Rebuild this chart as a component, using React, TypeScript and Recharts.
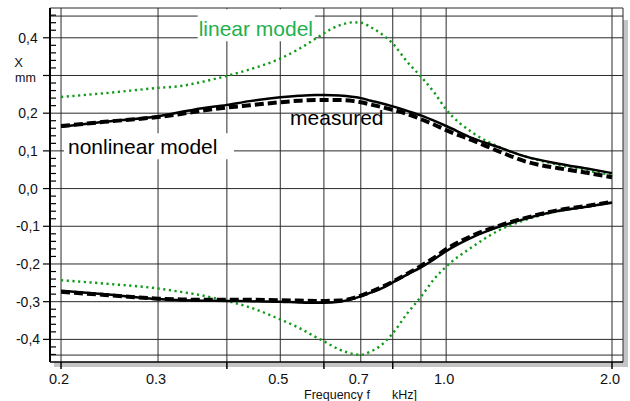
import React from "react";
import {
  LineChart,
  Line,
  XAxis,
  YAxis,
  CartesianGrid,
  ReferenceArea,
  Label,
} from "recharts";

// ---- data (frequency in kHz, displacement X in mm) ----
const FREQ = [0.2, 0.24, 0.3, 0.33, 0.35, 0.4, 0.44, 0.5, 0.54, 0.58, 0.6, 0.64, 0.68, 0.7, 0.73, 0.76, 0.8, 0.85, 0.9, 0.95, 1.0, 1.12, 1.25, 1.4, 1.6, 1.8, 2.0];
const UPPER_LINEAR = [0.243, 0.253, 0.267, 0.272, 0.279, 0.299, 0.316, 0.345, 0.370, 0.398, 0.412, 0.433, 0.441, 0.440, 0.428, 0.412, 0.385, 0.336, 0.297, 0.256, 0.210, 0.147, 0.110, 0.084, 0.063, 0.048, 0.036];
const UPPER_NONLINEAR = [0.164, 0.177, 0.192, 0.203, 0.210, 0.222, 0.232, 0.242, 0.246, 0.248, 0.248, 0.247, 0.243, 0.240, 0.233, 0.227, 0.218, 0.206, 0.194, 0.180, 0.166, 0.133, 0.109, 0.084, 0.066, 0.053, 0.041];
const UPPER_MEASURED = [0.166, 0.177, 0.190, 0.198, 0.204, 0.215, 0.221, 0.229, 0.233, 0.235, 0.235, 0.235, 0.232, 0.229, 0.223, 0.217, 0.209, 0.198, 0.184, 0.170, 0.155, 0.127, 0.098, 0.071, 0.054, 0.042, 0.030];
const LOWER_NONLINEAR = [-0.271, -0.280, -0.293, -0.296, -0.297, -0.298, -0.299, -0.300, -0.302, -0.303, -0.303, -0.300, -0.292, -0.286, -0.276, -0.266, -0.249, -0.228, -0.209, -0.188, -0.166, -0.128, -0.101, -0.079, -0.059, -0.048, -0.037];
const LOWER_MEASURED = [-0.274, -0.282, -0.292, -0.294, -0.295, -0.295, -0.295, -0.296, -0.297, -0.298, -0.298, -0.297, -0.290, -0.284, -0.274, -0.263, -0.247, -0.226, -0.205, -0.184, -0.161, -0.124, -0.098, -0.077, -0.057, -0.046, -0.035];
const LOWER_LINEAR = [-0.243, -0.252, -0.265, -0.274, -0.280, -0.298, -0.315, -0.347, -0.369, -0.394, -0.405, -0.427, -0.439, -0.441, -0.432, -0.417, -0.384, -0.331, -0.287, -0.241, -0.207, -0.153, -0.110, -0.082, -0.060, -0.048, -0.038];

// ---- axes ----
const X_DOMAIN = [0.191, 2.094];
const Y_DOMAIN = [-0.46, 0.479];
const X_GRID = [0.2, 0.3, 0.4, 0.5, 0.6, 0.7, 0.8, 0.9, 1.0, 2.0];
const X_LABELS = [0.2, 0.3, 0.5, 0.7, 1.0, 2.0];
const X_TICK_MARKS = [0.2, 0.4, 0.6, 0.8, 2.0];
const Y_GRID = [-0.4416, -0.4, -0.3, -0.2, -0.1, 0, 0.1, 0.2, 0.3, 0.4, 0.4576, 0.479];
const Y_LABELS = [-0.4, -0.3, -0.2, -0.1, 0, 0.1, 0.2, 0.4];
const Y_MINOR_TICKS = Array.from({ length: 46 }, (_, i) => Math.round((-0.44 + i * 0.02) * 100) / 100);

const data = FREQ.map((f, i) => ({
  f,
  ul: UPPER_LINEAR[i],
  un: UPPER_NONLINEAR[i],
  um: UPPER_MEASURED[i],
  ln: LOWER_NONLINEAR[i],
  lm: LOWER_MEASURED[i],
  ll: LOWER_LINEAR[i],
}));

const FONT = "'Liberation Sans', Arial, sans-serif";
const PLOT_LEFT = 50;
const PLOT_BOTTOM = 362;
const GREEN_LINE = "#119a1a";
const GREEN_TEXT = "#1fb04e";

const XTick = (props: any) => {
  const { x, payload } = props;
  const v = payload.value;
  const hasMark = X_TICK_MARKS.some((m) => Math.abs(m - v) < 1e-9);
  const hasLabel = X_LABELS.some((m) => Math.abs(m - v) < 1e-9);
  return (
    <g>
      {hasMark && (
        <line x1={x} x2={x} y1={PLOT_BOTTOM} y2={PLOT_BOTTOM + 7} stroke="#000" strokeWidth={1.5} />
      )}
      {hasLabel && (
        <text x={x - 2} y={384} textAnchor="middle" fontSize={14.5} fill="#111" fontFamily={FONT}>
          {v.toFixed(1)}
        </text>
      )}
    </g>
  );
};

const YTick = (props: any) => {
  const { y, payload } = props;
  const v = payload.value;
  const major = Math.abs(v * 10 - Math.round(v * 10)) < 1e-6;
  const hasLabel = Y_LABELS.some((m) => Math.abs(m - v) < 1e-9);
  return (
    <g>
      {major ? (
        <line x1={PLOT_LEFT - 7} x2={PLOT_LEFT} y1={y} y2={y} stroke="#000" strokeWidth={1.2} />
      ) : (
        <line x1={PLOT_LEFT} x2={PLOT_LEFT + 6} y1={y} y2={y} stroke="#000" strokeWidth={1.2} />
      )}
      {hasLabel && (
        <text x={28} y={y + 5} textAnchor="middle" fontSize={14} fill="#111" fontFamily={FONT}>
          {v.toFixed(1).replace(".", ",")}
        </text>
      )}
    </g>
  );
};

const YTitle = () => (
  <g fontFamily={FONT} fill="#111">
    <text x={18.5} y={67} textAnchor="middle" fontSize={13}>X</text>
    <text x={25.5} y={82} textAnchor="middle" fontSize={12.5}>mm</text>
  </g>
);

const XTitle = () => (
  <g fontFamily={FONT} fill="#111" fontSize={12.5}>
    <text x={304} y={398.5}>Frequency f</text>
    <text x={392} y={398.5}>kHz]</text>
  </g>
);

const boxLabel = (text: string, color: string, dx: number, dy: number) => (props: any) => {
  const vb = props.viewBox || {};
  return (
    <text x={vb.x + dx} y={vb.y + dy} fontSize={21} fill={color} fontFamily={FONT}>
      {text}
    </text>
  );
};

export default function App() {
  return (
    <div style={{ position: "absolute", left: 0, top: 0, width: 630, height: 401, background: "#fff" }}>
      <div style={{ position: "absolute", left: 54, top: 20, width: 574, height: 347, background: "#c4c4c4" }} />
      <div style={{ position: "absolute", left: 0, top: 0 }}>
        <LineChart
          width={630}
          height={401}
          data={data}
          margin={{ top: 8, right: 7, bottom: 0, left: 0 }}
          style={{ fontFamily: FONT }}
        >
          <CartesianGrid
            stroke="#2a2a2a"
            strokeWidth={1}
            fill="#fff"
            fillOpacity={1}
            horizontalValues={Y_GRID}
            verticalValues={[...X_GRID, X_DOMAIN[1]]}
          />
          <XAxis
            dataKey="f"
            type="number"
            scale="log"
            domain={X_DOMAIN}
            allowDataOverflow
            ticks={X_GRID}
            interval={0}
            tick={<XTick />}
            tickLine={false}
            axisLine={{ stroke: "#000", strokeWidth: 1.5 }}
            height={39}
            label={<XTitle />}
          />
          <YAxis
            type="number"
            domain={Y_DOMAIN}
            allowDataOverflow
            ticks={Y_MINOR_TICKS}
            interval={0}
            tick={<YTick />}
            tickLine={false}
            axisLine={{ stroke: "#000", strokeWidth: 2 }}
            width={50}
            label={<YTitle />}
          />
          <ReferenceArea x1={0.354} x2={0.578} y1={0.391} y2={0.476} fill="#fff" fillOpacity={1} stroke="none">
            <Label content={boxLabel("linear model", GREEN_TEXT, 1, 27)} />
          </ReferenceArea>
          <ReferenceArea x1={0.2025} x2={0.412} y1={0.078} y2={0.147} fill="#fff" fillOpacity={1} stroke="none">
            <Label content={boxLabel("nonlinear model", "#000", 4, 21)} />
          </ReferenceArea>
          <ReferenceArea x1={0.521} x2={0.775} y1={0.1605} y2={0.2162} fill="none" fillOpacity={0} stroke="none">
            <Label content={boxLabel("measured", "#000", 0, 18)} />
          </ReferenceArea>
          <Line dataKey="ul" type="monotone" stroke={GREEN_LINE} strokeWidth={2.4} strokeDasharray="2.2 3.5" dot={false} activeDot={false} isAnimationActive={false} />
          <Line dataKey="ll" type="monotone" stroke={GREEN_LINE} strokeWidth={2.4} strokeDasharray="2.2 3.5" dot={false} activeDot={false} isAnimationActive={false} />
          <Line dataKey="un" type="monotone" stroke="#000" strokeWidth={2.5} dot={false} activeDot={false} isAnimationActive={false} />
          <Line dataKey="ln" type="monotone" stroke="#000" strokeWidth={2.5} dot={false} activeDot={false} isAnimationActive={false} />
          <Line dataKey="um" type="monotone" stroke="#000" strokeWidth={4} strokeDasharray="9 4" dot={false} activeDot={false} isAnimationActive={false} />
          <Line dataKey="lm" type="monotone" stroke="#000" strokeWidth={4} strokeDasharray="9 4" dot={false} activeDot={false} isAnimationActive={false} />
        </LineChart>
      </div>
    </div>
  );
}
